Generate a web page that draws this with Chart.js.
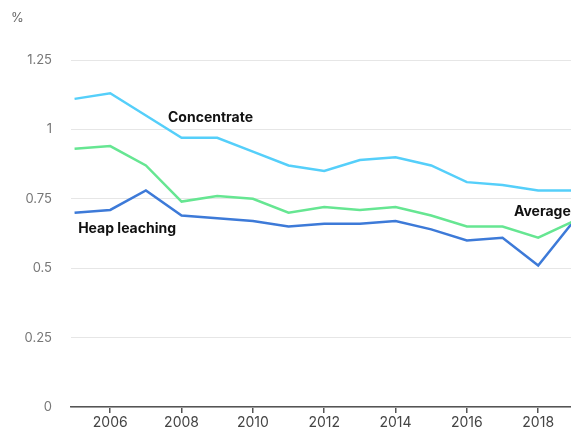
<!DOCTYPE html>
<html>
<head>
<meta charset="utf-8">
<script src="https://cdn.jsdelivr.net/npm/chart.js@4.4.1/dist/chart.umd.min.js"></script>
<style>
  html, body { margin: 0; padding: 0; background: #fff; overflow: hidden; }
  #wrap { width: 571px; height: 435px; position: relative; }
</style>
</head>
<body>
<div id="wrap"><canvas id="c"></canvas></div>
<script>
// data
var years = [2005, 2006, 2007, 2008, 2009, 2010, 2011, 2012, 2013, 2014, 2015, 2016, 2017, 2018, 2019];
var concentrate = [1.11, 1.13, 1.05, 0.97, 0.97, 0.92, 0.87, 0.85, 0.89, 0.90, 0.87, 0.81, 0.80, 0.78, 0.78];
var average = [0.93, 0.94, 0.87, 0.74, 0.76, 0.75, 0.70, 0.72, 0.71, 0.72, 0.69, 0.65, 0.65, 0.61, 0.67];
var heapLeaching = [0.70, 0.71, 0.78, 0.69, 0.68, 0.67, 0.65, 0.66, 0.66, 0.67, 0.64, 0.60, 0.61, 0.51, 0.67];
var xTicks = [2006, 2008, 2010, 2012, 2014, 2016, 2018];
var yTicks = [0, 0.25, 0.5, 0.75, 1, 1.25];

var FONT = 'Inter, "Noto Sans", sans-serif';

function pts(vals) {
    return vals.map(function (v, i) { return { x: years[i], y: v }; });
}

// series names drawn next to the lines
var seriesLabels = [
    { text: 'Concentrate', x: 2007.62, y: 1.041 },
    { text: 'Heap leaching', x: 2005.1, y: 0.643 },
    { text: 'Average', x: 2017.32, y: 0.704 }
];

var labelPlugin = {
    id: 'labels',
    afterDraw(chart) {
        var ctx = chart.ctx;
        var xs = chart.scales.x, ys = chart.scales.y;
        ctx.save();
        ctx.fillStyle = '#111';
        ctx.font = 'bold 14px ' + FONT;
        ctx.textBaseline = 'middle';
        ctx.textAlign = 'left';
        seriesLabels.forEach(function (l) {
            ctx.fillText(l.text, xs.getPixelForValue(l.x), ys.getPixelForValue(l.y));
        });
        ctx.fillStyle = '#666';
        ctx.font = '13px ' + FONT;
        ctx.fillText('%', 11, 18);
        ctx.restore();
    }
};

function line(label, vals, color) {
    return {
        label: label,
        data: pts(vals),
        borderColor: color,
        borderWidth: 2.5,
        pointRadius: 0,
        tension: 0,
        fill: false
    };
}

new Chart(document.getElementById('c'), {
    type: 'line',
    data: {
        datasets: [
            line('Concentrate', concentrate, '#55cffa'),
            line('Average', average, '#66e692'),
            line('Heap leaching', heapLeaching, '#3d7ad8')
        ]
    },
    options: {
        responsive: true,
        maintainAspectRatio: false,
        animation: false,
        layout: { padding: { top: 60, right: 0, left: 0, bottom: 0 } },
        plugins: { legend: { display: false }, tooltip: { enabled: false } },
        scales: {
            x: {
                type: 'linear',
                min: 2004.9,
                max: 2018.92,
                afterBuildTicks(scale) { scale.ticks = xTicks.map(function (v) { return { value: v }; }); },
                afterFit(scale) { scale.height = 28; },
                grid: { drawOnChartArea: false, drawTicks: true, tickLength: 6, color: '#555', lineWidth: 1.5 },
                border: { display: true, color: '#555', width: 1.5 },
                ticks: {
                    color: '#444', font: { family: FONT, size: 14 }, padding: 1,
                    maxRotation: 0, autoSkip: false,
                    callback(v) { return String(v); }
                }
            },
            y: {
                min: 0,
                max: 1.25,
                afterBuildTicks(scale) { scale.ticks = yTicks.map(function (v) { return { value: v }; }); },
                afterFit(scale) { scale.width = 71; },
                grid: { drawTicks: false, color: '#e6e6e6', lineWidth: 1 },
                border: { display: false },
                ticks: {
                    color: '#777', font: { family: FONT, size: 13 }, padding: 19,
                    callback(v) { return String(v); }
                }
            }
        }
    },
    plugins: [labelPlugin]
});
</script>
</body>
</html>
